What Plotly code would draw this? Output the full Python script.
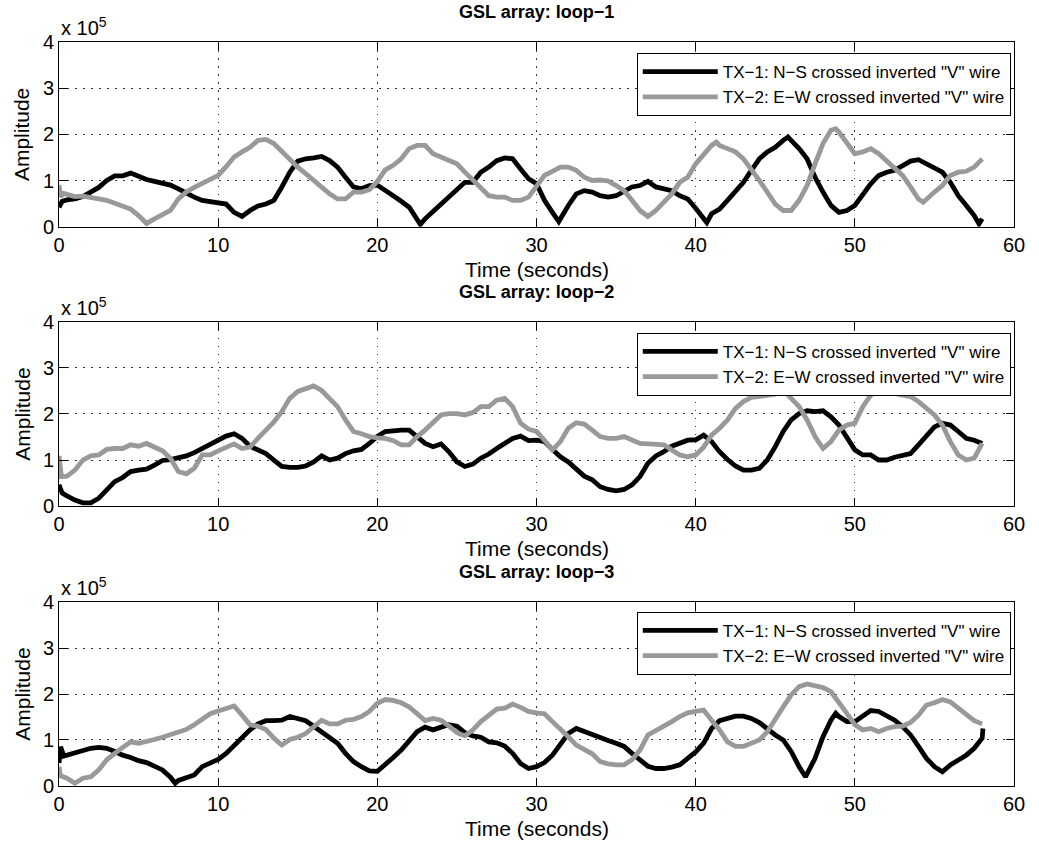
import plotly.graph_objects as go

# ---------------- data (amplitude in units of 1e5) ----------------
L1_TX1_T = [0, 0.2, 0.5, 1, 1.5, 2, 2.5, 3, 3.5, 4, 4.5, 5, 5.5, 6, 6.5, 7, 7.5, 8, 8.5, 9, 9.5, 10, 10.5, 11, 11.5, 12, 12.5, 13, 13.5, 14, 14.5, 15, 15.5, 16, 16.5, 17, 17.5, 18, 18.5, 19, 19.5, 20,
            20.5, 21, 21.5, 22, 22.7, 23, 23.5, 24, 24.5, 25, 25.5, 26, 26.5, 27, 27.5, 28, 28.5, 29, 29.5, 30, 30.5, 31, 31.4, 32, 32.5, 33, 33.5, 34, 34.5, 35, 35.5, 36, 36.5, 37, 37.5, 38, 38.5, 39, 39.5, 40,
            40.7, 41, 41.5, 42, 42.5, 43, 43.5, 44, 44.5, 45, 45.5, 45.8, 46, 46.5, 47, 47.5, 48, 48.5, 49, 49.5, 50, 50.5, 51, 51.5, 52, 52.5, 53, 53.5, 54, 54.5, 55, 55.5, 56, 56.5, 57, 57.5, 57.8, 58]
L1_TX1_V = [0.42, 0.55, 0.58, 0.6, 0.65, 0.75, 0.85, 1.0, 1.1, 1.1, 1.16, 1.09, 1.02, 0.98, 0.95, 0.9, 0.82, 0.72, 0.64, 0.57, 0.54, 0.53, 0.49, 0.31, 0.22, 0.35, 0.45, 0.49, 0.57, 0.86, 1.18, 1.42, 1.47, 1.49, 1.52, 1.43, 1.29, 1.07, 0.86, 0.82, 0.89, 0.9,
            0.8, 0.67, 0.55, 0.42, 0.05, 0.17, 0.33, 0.49, 0.66, 0.82, 0.96, 0.96, 1.18, 1.29, 1.43, 1.49, 1.47, 1.25, 1.04, 0.93, 0.57, 0.31, 0.11, 0.46, 0.71, 0.78, 0.75, 0.67, 0.64, 0.67, 0.78, 0.86, 0.89, 0.98, 0.86, 0.82, 0.78, 0.67, 0.6, 0.4,
            0.09, 0.28, 0.38, 0.57, 0.78, 0.96, 1.22, 1.47, 1.62, 1.72, 1.87, 1.94, 1.87, 1.69, 1.47, 1.07, 0.75, 0.46, 0.31, 0.35, 0.46, 0.71, 0.93, 1.11, 1.18, 1.22, 1.33, 1.42, 1.45, 1.36, 1.25, 1.18, 0.96, 0.67, 0.46, 0.24, 0.06, 0.17]

L1_TX2_T = [0, 0.1, 0.3, 0.5, 1, 1.5, 2, 2.5, 3, 3.5, 4, 4.5, 5, 5.5, 6, 6.5, 7, 7.5, 8, 8.5, 9, 9.5, 10, 10.5, 11, 11.5, 12, 12.5, 13, 13.5, 14, 14.5, 15, 15.5, 16, 16.5, 17, 17.5, 18, 18.5, 19, 19.5, 20,
            20.5, 21, 21.5, 22, 22.5, 23, 23.5, 24, 24.5, 25, 25.5, 26, 26.5, 27, 27.5, 28, 28.5, 29, 29.5, 30, 30.5, 31, 31.5, 32, 32.5, 33, 33.5, 34, 34.5, 35, 35.5, 36, 36.5, 37, 37.5, 38, 38.5, 39, 39.5, 40,
            40.5, 41, 41.3, 41.5, 42, 42.5, 43, 43.5, 44, 44.5, 45, 45.5, 46, 46.5, 47, 47.5, 48, 48.5, 48.8, 49, 49.5, 50, 50.5, 51, 51.5, 52, 52.5, 53, 53.5, 54, 54.3, 54.5, 55, 55.5, 56, 56.5, 57, 57.5, 58]
L1_TX2_V = [0.9, 0.65, 0.72, 0.7, 0.65, 0.66, 0.62, 0.6, 0.57, 0.5, 0.43, 0.38, 0.24, 0.07, 0.17, 0.25, 0.35, 0.6, 0.75, 0.85, 0.93, 1.03, 1.11, 1.3, 1.51, 1.62, 1.72, 1.87, 1.89, 1.8, 1.62, 1.45, 1.29, 1.15, 1.0, 0.85, 0.71, 0.6, 0.6, 0.75, 0.75, 0.8, 0.98,
            1.23, 1.33, 1.47, 1.69, 1.76, 1.76, 1.58, 1.51, 1.45, 1.36, 1.18, 1.0, 0.82, 0.67, 0.64, 0.64, 0.57, 0.57, 0.64, 0.86, 1.11, 1.2, 1.29, 1.29, 1.22, 1.07, 1.0, 1.01, 0.99, 0.89, 0.78, 0.57, 0.35, 0.22, 0.35, 0.53, 0.71, 0.96, 1.07, 1.36,
            1.58, 1.76, 1.83, 1.76, 1.69, 1.62, 1.47, 1.25, 1.0, 0.75, 0.49, 0.35, 0.35, 0.57, 0.89, 1.36, 1.8, 2.09, 2.12, 2.05, 1.8, 1.58, 1.62, 1.69, 1.58, 1.43, 1.29, 1.11, 0.86, 0.6, 0.53, 0.6, 0.75, 0.89, 1.11, 1.18, 1.2, 1.29, 1.47]

L2_TX1_T = [0, 0.2, 0.5, 1, 1.5, 2, 2.5, 3, 3.5, 4, 4.5, 5, 5.5, 6, 6.5, 7, 7.5, 8, 8.5, 9, 9.5, 10, 10.5, 11, 11.5, 12, 12.5, 13, 13.5, 14, 14.5, 15, 15.5, 16, 16.5, 17, 17.5, 18, 18.5, 19, 19.5, 20,
            20.5, 21, 21.5, 22, 22.5, 23, 23.5, 24, 24.5, 25, 25.5, 26, 26.5, 27, 27.5, 28, 28.5, 29, 29.5, 30, 30.5, 31, 31.5, 32, 32.5, 33, 33.5, 34, 34.5, 35, 35.5, 36, 36.5, 37, 37.5, 38, 38.5, 39, 39.5, 40,
            40.5, 41, 41.5, 42, 42.5, 43, 43.5, 44, 44.5, 45, 45.5, 46, 46.5, 47, 47.5, 48, 48.5, 49, 49.5, 50, 50.5, 51, 51.5, 52, 52.5, 53, 53.5, 54, 54.5, 55, 55.5, 56, 56.5, 57, 57.5, 58]
L2_TX1_V = [0.46, 0.28, 0.22, 0.13, 0.07, 0.07, 0.17, 0.35, 0.53, 0.62, 0.75, 0.78, 0.8, 0.89, 0.99, 1.01, 1.04, 1.09, 1.16, 1.25, 1.35, 1.43, 1.52, 1.57, 1.47, 1.3, 1.22, 1.14, 1.0, 0.86, 0.84, 0.84, 0.87, 0.96, 1.09, 1.0, 1.04, 1.14, 1.2, 1.23, 1.36, 1.51,
            1.62, 1.64, 1.65, 1.65, 1.51, 1.36, 1.29, 1.35, 1.18, 0.96, 0.86, 0.91, 1.04, 1.13, 1.25, 1.35, 1.47, 1.52, 1.42, 1.43, 1.4, 1.23, 1.07, 0.96, 0.8, 0.65, 0.57, 0.42, 0.36, 0.33, 0.36, 0.46, 0.64, 0.93, 1.09, 1.18, 1.3, 1.36, 1.43, 1.44,
            1.54, 1.4, 1.18, 1.01, 0.87, 0.78, 0.78, 0.82, 1.0, 1.29, 1.62, 1.87, 2.01, 2.07, 2.05, 2.07, 1.94, 1.76, 1.51, 1.22, 1.11, 1.11, 1.0, 1.0, 1.06, 1.09, 1.14, 1.33, 1.54, 1.72, 1.8, 1.76, 1.62, 1.47, 1.43, 1.36]

L2_TX2_T = [0, 0.15, 0.5, 1, 1.5, 2, 2.5, 3, 3.5, 4, 4.5, 5, 5.5, 6, 6.5, 7, 7.5, 8, 8.5, 9, 9.5, 10, 10.5, 11, 11.5, 12, 12.5, 13, 13.5, 14, 14.5, 15, 15.5, 16, 16.5, 17, 17.5, 18, 18.5, 19, 19.5, 20,
            20.5, 21, 21.5, 22, 22.5, 23, 23.5, 24, 24.5, 25, 25.5, 26, 26.5, 27, 27.5, 28, 28.5, 29, 29.5, 30, 30.5, 31, 31.5, 32, 32.5, 33, 33.5, 34, 34.5, 35, 35.5, 36, 36.5, 37, 37.5, 38, 38.5, 39, 39.5, 40,
            40.5, 41, 41.5, 42, 42.5, 43, 43.5, 44, 44.5, 45, 45.5, 46, 46.5, 47, 47.5, 48, 48.5, 49, 49.5, 50, 50.5, 51, 51.5, 52, 52.5, 53, 53.5, 54, 54.5, 55, 55.5, 56, 56.5, 57, 57.5, 58]
L2_TX2_V = [1.09, 0.64, 0.65, 0.78, 1.0, 1.09, 1.11, 1.23, 1.25, 1.25, 1.33, 1.3, 1.36, 1.28, 1.2, 1.04, 0.75, 0.7, 0.82, 1.11, 1.11, 1.2, 1.28, 1.35, 1.25, 1.28, 1.47, 1.65, 1.83, 2.05, 2.34, 2.49, 2.56, 2.61, 2.51, 2.34, 2.16, 1.87, 1.62, 1.57, 1.51, 1.48,
            1.47, 1.42, 1.33, 1.33, 1.51, 1.65, 1.83, 1.98, 2.01, 2.01, 1.98, 2.03, 2.16, 2.16, 2.3, 2.34, 2.16, 1.8, 1.67, 1.62, 1.43, 1.22, 1.4, 1.69, 1.81, 1.78, 1.65, 1.51, 1.47, 1.47, 1.51, 1.43, 1.36, 1.35, 1.33, 1.33, 1.22, 1.11, 1.07, 1.11,
            1.28, 1.54, 1.69, 1.87, 2.12, 2.27, 2.36, 2.38, 2.39, 2.43, 2.52, 2.34, 2.16, 1.87, 1.51, 1.25, 1.4, 1.65, 1.76, 1.8, 2.16, 2.41, 2.49, 2.46, 2.45, 2.41, 2.38, 2.27, 2.12, 1.98, 1.76, 1.4, 1.11, 1.0, 1.04, 1.36]

L3_TX1_T = [0, 0.1, 0.3, 0.5, 1, 1.5, 2, 2.5, 3, 3.5, 4, 4.5, 5, 5.5, 6, 6.5, 7, 7.3, 7.5, 8, 8.5, 9, 9.5, 10, 10.5, 11, 11.5, 12, 12.5, 13, 13.5, 14, 14.5, 15, 15.5, 16, 16.5, 17, 17.5, 18, 18.5, 19, 19.5, 20,
            20.5, 21, 21.5, 22, 22.5, 23, 23.5, 24, 24.5, 25, 25.5, 26, 26.5, 27, 27.5, 28, 28.5, 29, 29.5, 30, 30.5, 31, 31.5, 32, 32.5, 33, 33.5, 34, 34.5, 35, 35.5, 36, 36.5, 37, 37.5, 38, 38.5, 39, 39.5, 40,
            40.5, 41, 41.5, 42, 42.5, 43, 43.5, 44, 44.5, 45, 45.5, 46, 46.5, 46.9, 47.5, 48, 48.5, 48.8, 49, 49.5, 50, 50.5, 51, 51.5, 52, 52.5, 53, 53.5, 54, 54.5, 55, 55.5, 56, 56.5, 57, 57.5, 58, 58.05]
L3_TX1_V = [0.5, 0.85, 0.65, 0.67, 0.7, 0.75, 0.82, 0.84, 0.82, 0.75, 0.67, 0.62, 0.55, 0.51, 0.43, 0.35, 0.19, 0.06, 0.12, 0.19, 0.24, 0.42, 0.51, 0.58, 0.71, 0.89, 1.06, 1.22, 1.35, 1.42, 1.42, 1.43, 1.51, 1.47, 1.42, 1.3, 1.18, 1.07, 0.93, 0.71, 0.53, 0.42, 0.33, 0.32,
            0.46, 0.62, 0.78, 0.99, 1.18, 1.28, 1.22, 1.28, 1.33, 1.3, 1.16, 1.09, 1.06, 0.96, 0.94, 0.87, 0.71, 0.49, 0.38, 0.42, 0.51, 0.67, 0.89, 1.14, 1.25, 1.18, 1.11, 1.04, 0.99, 0.93, 0.86, 0.71, 0.57, 0.43, 0.38, 0.38, 0.41, 0.46, 0.6, 0.74,
            0.93, 1.25, 1.42, 1.47, 1.52, 1.52, 1.47, 1.38, 1.23, 1.11, 1.0, 0.75, 0.42, 0.2, 0.6, 1.07, 1.43, 1.58, 1.51, 1.4, 1.4, 1.51, 1.64, 1.62, 1.52, 1.43, 1.29, 1.11, 0.86, 0.6, 0.42, 0.31, 0.46, 0.57, 0.67, 0.82, 1.04, 1.25]

L3_TX2_T = [0, 0.1, 0.5, 1, 1.5, 2, 2.5, 3, 3.5, 4, 4.5, 5, 5.5, 6, 6.5, 7, 7.5, 8, 8.5, 9, 9.5, 10, 10.5, 11, 11.5, 12, 12.5, 13, 13.5, 14, 14.5, 15, 15.5, 16, 16.5, 17, 17.5, 18, 18.5, 19, 19.5, 20,
            20.5, 21, 21.5, 22, 22.5, 23, 23.5, 24, 24.5, 25, 25.5, 26, 26.5, 27, 27.5, 28, 28.5, 29, 29.5, 30, 30.5, 31, 31.5, 32, 32.5, 33, 33.5, 34, 34.5, 35, 35.5, 36, 36.5, 37, 37.5, 38, 38.5, 39, 39.5, 40,
            40.5, 41, 41.5, 42, 42.5, 43, 43.5, 44, 44.5, 45, 45.5, 46, 46.5, 47, 47.5, 48, 48.5, 49, 49.5, 50, 50.5, 51, 51.5, 52, 52.5, 53, 53.5, 54, 54.5, 55, 55.5, 56, 56.5, 57, 57.5, 58]
L3_TX2_V = [0.42, 0.22, 0.17, 0.06, 0.17, 0.2, 0.35, 0.57, 0.71, 0.84, 0.96, 0.93, 0.96, 1.01, 1.06, 1.11, 1.18, 1.23, 1.33, 1.45, 1.57, 1.63, 1.69, 1.74, 1.54, 1.33, 1.3, 1.23, 1.04, 0.89, 1.01, 1.06, 1.14, 1.3, 1.43, 1.35, 1.35, 1.43, 1.45, 1.51, 1.62, 1.8,
            1.88, 1.86, 1.81, 1.72, 1.58, 1.42, 1.47, 1.43, 1.3, 1.16, 1.09, 1.22, 1.4, 1.52, 1.67, 1.69, 1.78, 1.71, 1.62, 1.59, 1.57, 1.4, 1.25, 1.07, 0.89, 0.78, 0.7, 0.53, 0.48, 0.46, 0.46, 0.57, 0.78, 1.11, 1.2, 1.3, 1.4, 1.51, 1.59, 1.62,
            1.65, 1.43, 1.22, 0.96, 0.86, 0.86, 0.93, 1.0, 1.18, 1.43, 1.72, 1.98, 2.16, 2.22, 2.17, 2.14, 2.05, 1.83, 1.58, 1.33, 1.22, 1.25, 1.18, 1.25, 1.29, 1.3, 1.38, 1.54, 1.76, 1.81, 1.88, 1.83, 1.69, 1.54, 1.42, 1.35]

SCALE = 1e5
TITLES = ["GSL array: loop\u22121", "GSL array: loop\u22122", "GSL array: loop\u22123"]
NAMES = ['TX\u22121: N\u2212S crossed inverted "V" wire', 'TX\u22122: E\u2212W crossed inverted "V" wire']
X_TICKS = [0, 10, 20, 30, 40, 50, 60]
Y_TICKS = [0, 1, 2, 3, 4]
XLABEL = "Time (seconds)"
YLABEL = "Amplitude"

LOOPS = [
    (L1_TX1_T, L1_TX1_V, L1_TX2_T, L1_TX2_V),
    (L2_TX1_T, L2_TX1_V, L2_TX2_T, L2_TX2_V),
    (L3_TX1_T, L3_TX1_V, L3_TX2_T, L3_TX2_V),
]

# ---------------- figure ----------------
FONT = "Liberation Sans, Arial, Helvetica, sans-serif"
W, H = 1039, 844
ML, MR, MT, MB = 59, 25, 42, 58
domains = [[0.7518, 1.0], [0.3763, 0.6237], [0.0, 0.2473]]
legend_y = [0.985, 0.609, 0.234]

fig = go.Figure()
colors = ["#000000", "#999999"]
layout_extra = {}
annotations = []
for i, (t1, v1, t2, v2) in enumerate(LOOPS):
    xa = "x" if i == 0 else f"x{i+1}"
    ya = "y" if i == 0 else f"y{i+1}"
    lg = "legend" if i == 0 else f"legend{i+1}"
    for (tt, vv), name, col in zip([(t1, v1), (t2, v2)], NAMES, colors):
        fig.add_trace(go.Scatter(
            x=tt, y=[v * SCALE for v in vv], mode="lines", name=name,
            line=dict(color=col, width=4.8), xaxis=xa, yaxis=ya, legend=lg,
        ))
    axis_common = dict(
        showline=True, linecolor="black", linewidth=1, mirror="ticks",
        ticks="inside", ticklen=8, tickcolor="black", tickwidth=1,
        showgrid=True, gridcolor="#333333", gridwidth=1, griddash="1.5px,6.5px",
        zeroline=False, automargin=False,
        tickfont=dict(family=FONT, size=20, color="black"),
    )
    xkey = "xaxis" if i == 0 else f"xaxis{i+1}"
    ykey = "yaxis" if i == 0 else f"yaxis{i+1}"
    layout_extra[xkey] = dict(axis_common, range=[0, 60], tickvals=X_TICKS,
                              ticktext=[str(v) for v in X_TICKS],
                              anchor=ya, domain=[0, 1])
    layout_extra[ykey] = dict(axis_common, range=[0, 4 * SCALE],
                              tickvals=[v * SCALE for v in Y_TICKS],
                              ticktext=[str(v) for v in Y_TICKS],
                              anchor=xa, domain=domains[i])
    layout_extra[lg] = dict(
        x=0.605, xanchor="left", y=legend_y[i], yanchor="top",
        xref="paper", yref="paper",
        bgcolor="white", bordercolor="black", borderwidth=1,
        font=dict(family=FONT, size=17, color="black"),
        itemwidth=75, tracegroupgap=0,
    )
    xd = f"{xa} domain"
    yd = f"{ya} domain"
    annotations += [
        dict(text=f"<b>{TITLES[i]}</b>", xref=xd, yref=yd, x=0.5, y=1.163,
             xanchor="center", yanchor="middle", showarrow=False,
             font=dict(family=FONT, size=18, color="black")),
        dict(text=XLABEL, xref=xd, yref=yd, x=0.5, y=-0.232,
             xanchor="center", yanchor="middle", showarrow=False,
             font=dict(family=FONT, size=21, color="black")),
        dict(text=YLABEL, xref=xd, yref=yd, x=-0.039, y=0.5, textangle=-90,
             xanchor="center", yanchor="middle", showarrow=False,
             font=dict(family=FONT, size=21, color="black")),
        dict(text="x 10<sup>5</sup>", xref=xd, yref=yd, x=0.0, y=1.005,
             xanchor="left", yanchor="bottom", showarrow=False,
             font=dict(family=FONT, size=20, color="black")),
    ]

fig.update_layout(
    width=W, height=H,
    margin=dict(l=ML, r=MR, t=MT, b=MB, autoexpand=False),
    paper_bgcolor="white", plot_bgcolor="white",
    showlegend=True,
    annotations=annotations,
    font=dict(family=FONT, color="black"),
    **layout_extra,
)

# remove the page's default body margin so the figure fills the window exactly
fig.write_html("out.html", config={"displayModeBar": False},
               post_script="document.body.style.margin='0px';")
